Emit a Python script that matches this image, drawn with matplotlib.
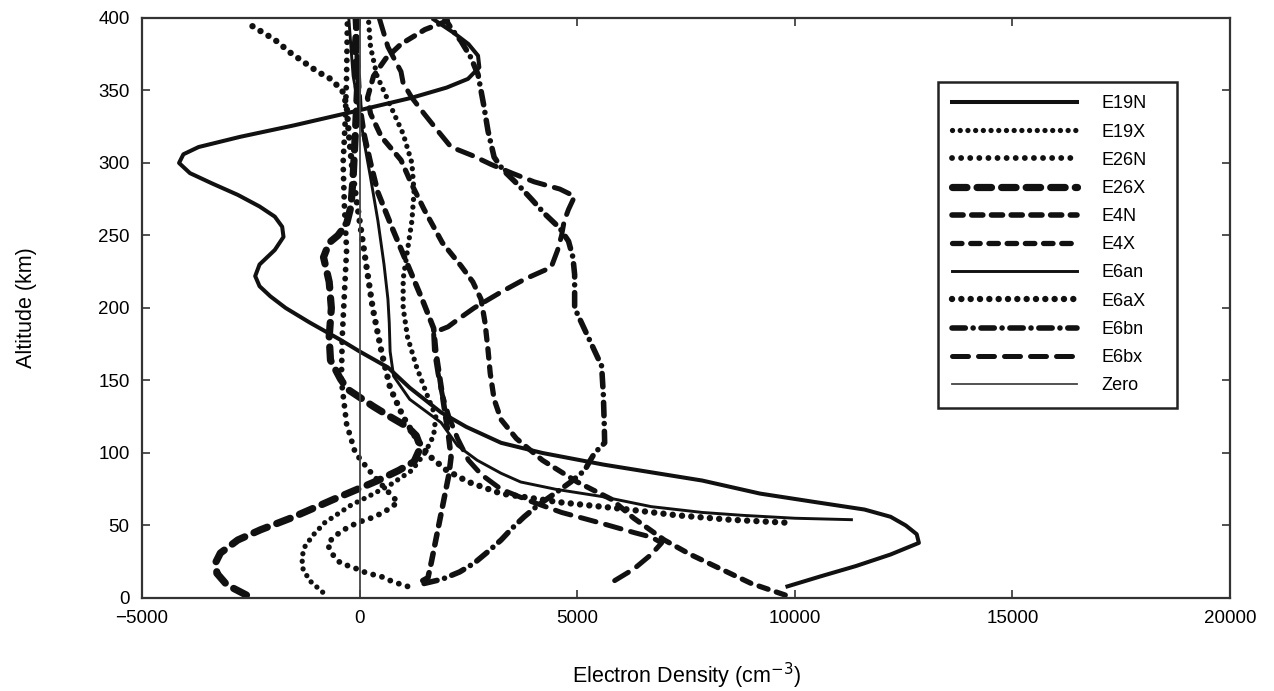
import matplotlib

matplotlib.use("Agg")
import matplotlib.pyplot as plt

plt.rcParams["font.family"] = ["Liberation Sans", "DejaVu Sans"]

# electron density profiles, cm^-3 against altitude in km
E19N_alt = [8, 15, 22, 30, 38, 44, 50, 56, 61, 66, 72, 81, 92, 100, 107, 118, 128, 145, 159, 170,
            178, 190, 200, 208, 215, 222, 230, 240, 249, 256, 263, 270, 278, 286, 293, 300, 306,
            311, 318, 326, 335, 345, 352, 358, 366, 374, 382, 390, 399]
E19N_ne = [9830, 10600, 11400, 12200, 12850, 12800, 12550, 12200, 11600, 10500, 9200, 7870, 5600,
           4200, 3250, 2450, 1870, 1150, 650, 0, -440, -1150, -1700, -2050, -2300, -2400, -2300,
           -1950, -1750, -1780, -1950, -2300, -2800, -3400, -3900, -4150, -4050, -3700, -2750,
           -1500, -200, 1200, 2000, 2490, 2750, 2720, 2500, 2150, 1700]

E19X_alt = [4, 12, 20, 28, 36, 44, 52, 58, 64, 70, 78, 88, 100, 112, 125, 140, 160, 180, 200, 220,
            240, 260, 280, 300, 320, 340, 360, 380, 400]
E19X_ne = [-850, -1150, -1300, -1330, -1250, -1050, -800, -500, -200, 200, 700, 1200, 1500, 1700,
           1750, 1550, 1300, 1100, 1000, 1000, 1100, 1200, 1250, 1200, 1000, 700, 400, 250, 200]

E26N_alt = [8, 11, 15, 17, 21, 24, 30, 37, 42, 47, 52, 55, 59, 66, 75, 85, 100, 120, 150, 180, 210,
            240, 270, 300, 330, 360, 400]
E26N_ne = [1100, 780, 480, 180, -140, -440, -620, -740, -600, -370, -50, 250, 550, 880, 600, 300,
           -100, -300, -420, -400, -350, -300, -350, -380, -330, -300, -280]

E26X_alt = [2, 9, 17, 25, 31, 40, 47, 55, 61, 68, 75, 81, 88, 94, 104, 112, 118, 125, 132, 144, 151,
            164, 180, 200, 218, 235, 245, 250, 258, 270, 290, 320, 350, 380, 400]
E26X_ne = [-2600, -3050, -3280, -3300, -3200, -2800, -2280, -1590, -1130, -600, -50, 415, 900, 1250,
           1400, 1300, 1100, 700, 320, -280, -440, -670, -700, -650, -700, -830, -700, -500, -300,
           -200, -150, -100, -50, -100, -50]

E4N_alt = [12, 14, 25, 40, 55, 70, 85, 97, 110, 130, 150, 170, 186, 205, 230, 255, 280, 300, 320,
           340, 370, 400]
E4N_ne = [1450, 1570, 1650, 1750, 1850, 1950, 2050, 2100, 2050, 1950, 1850, 1750, 1700, 1450, 1100,
          750, 415, 250, 100, 0, -50, -100]

E4X_alt = [2, 10, 20, 30, 40, 55, 68, 80, 95, 110, 123, 137, 155, 171, 190, 206, 218, 229, 245, 268,
           285, 302, 318, 334, 345, 360, 372, 382, 392, 399]
E4X_ne = [9780, 9000, 8300, 7600, 7000, 6300, 5790, 5000, 4200, 3600, 3250, 3090, 3000, 2950, 2880,
          2790, 2600, 2330, 1900, 1480, 1200, 950, 500, 250, 180, 320, 600, 950, 1500, 2100]

E6an_alt = [54, 55, 57, 59, 63, 70, 75, 80, 86, 95, 105, 121, 137, 153, 170, 190, 206, 230, 260, 290,
            315, 335, 360, 400]
E6an_ne = [11300, 10000, 8800, 7870, 6700, 5560, 4500, 3700, 3250, 2700, 2250, 1870, 1150, 780, 700,
           680, 650, 560, 420, 250, 100, 0, -150, -250]

E6aX_alt = [52, 54, 57, 61, 66, 72, 80, 88, 98, 110, 125, 145, 170, 200, 230, 260, 290, 320, 340,
            350, 358, 363, 376, 385, 395]
E6aX_ne = [9760, 8500, 7300, 6180, 4600, 3250, 2500, 2000, 1600, 1300, 1000, 700, 500, 300, 150, 0,
           -150, -250, -300, -400, -670, -970, -1590, -1950, -2500]

E6bn_alt = [10, 13, 18, 24, 32, 40, 48, 56, 64, 72, 80, 88, 95, 100, 107, 120, 140, 160, 180, 200,
            212, 223, 235, 246, 255, 265, 275, 285, 295, 304, 322, 340, 361, 373, 384, 393, 400]
E6bn_ne = [1480, 1900, 2300, 2630, 2950, 3250, 3500, 3780, 4100, 4480, 4850, 5170, 5300, 5400, 5630,
           5620, 5600, 5560, 5250, 4940, 4940, 4940, 4900, 4800, 4600, 4250, 3950, 3640, 3300, 3090,
           2950, 2850, 2720, 2550, 2330, 2100, 1950]

E6bx_alt = [12, 20, 30, 38, 42, 45, 52, 59, 67, 75, 85, 95, 110, 125, 140, 155, 170, 183, 187, 193,
            200, 211, 220, 228, 240, 250, 260, 268, 277, 282, 287, 293, 299, 305, 311, 322, 334, 345,
            355, 363, 380, 400]
E6bx_ne = [5860, 6300, 6700, 6940, 6700, 6320, 5500, 4640, 3900, 3250, 2800, 2500, 2250, 2050, 1900,
           1800, 1720, 1700, 2030, 2300, 2630, 3250, 3800, 4400, 4550, 4640, 4700, 4800, 4940, 4600,
           4010, 3500, 3020, 2600, 2100, 1800, 1480, 1200, 1000, 950, 650, 450]

zero_alt = [0, 400]
zero_ne = [0, 0]

DOT = dict(dash_capstyle="round", solid_capstyle="round")
profiles = [
    ("E19N", E19N_ne, E19N_alt, dict(linestyle="-", lw=2.9)),
    ("E19X", E19X_ne, E19X_alt, dict(linestyle=(0, (0.01, 1.45)), lw=3.8, **DOT)),
    ("E26N", E26N_ne, E26N_alt, dict(linestyle=(0, (0.01, 1.55)), lw=4.2, **DOT)),
    ("E26X", E26X_ne, E26X_alt, dict(linestyle=(0, (2.0, 1.4)), lw=5.2, **DOT)),
    ("E4N", E4N_ne, E4N_alt, dict(linestyle=(0, (2.0, 1.55)), lw=4.0, **DOT)),
    ("E4X", E4X_ne, E4X_alt, dict(linestyle=(0, (1.8, 1.65)), lw=3.8, **DOT)),
    ("E6an", E6an_ne, E6an_alt, dict(linestyle="-", lw=2.1)),
    ("E6aX", E6aX_ne, E6aX_alt, dict(linestyle=(0, (0.01, 1.45)), lw=4.6, **DOT)),
    ("E6bn", E6bn_ne, E6bn_alt, dict(linestyle=(0, (2.4, 1.4, 0.01, 1.4)), lw=4.0, **DOT)),
    ("E6bx", E6bx_ne, E6bx_alt, dict(linestyle=(0, (3.2, 2.0)), lw=3.6, **DOT)),
    ("Zero", zero_ne, zero_alt, dict(linestyle="-", lw=1.3, color="#444444")),
]

fig = plt.figure(figsize=(12.74, 6.91), dpi=100)
ax = fig.add_axes([0.1115, 0.1346, 0.854, 0.8394])

for name, ne, alt, style in profiles:
    style = dict(style)
    style.setdefault("color", "#111111")
    ax.plot(ne, alt, label=name, **style)

ax.set_xlim(-5000, 20000)
ax.set_ylim(0, 400)
ax.set_xticks([-5000, 0, 5000, 10000, 15000, 20000])
ax.set_xticklabels(["\u22125000", "0", "5000", "10000", "15000", "20000"])
ax.set_yticks(range(0, 401, 50))
ax.tick_params(direction="in", top=True, right=True, length=6, width=1.2,
               labelsize=13.5, pad=9, color="#333333")
for sp in ax.spines.values():
    sp.set_linewidth(1.6)
    sp.set_color("#333333")

ax.set_xlabel("Electron Density (cm$^{\u22123}$)", fontsize=15.5, labelpad=24)
ax.set_ylabel("Altitude (km)", fontsize=15.5, labelpad=44)

leg = ax.legend(loc="upper left", bbox_to_anchor=(0.732, 0.89, 0.219, 0.0), mode="expand",
                borderaxespad=0, fontsize=13, handlelength=6.9, handletextpad=1.4,
                labelspacing=0.62, borderpad=0.75, fancybox=False, framealpha=1)
leg.get_frame().set_edgecolor("#222222")
leg.get_frame().set_linewidth(1.8)

fig.savefig("out.png", dpi=100)
